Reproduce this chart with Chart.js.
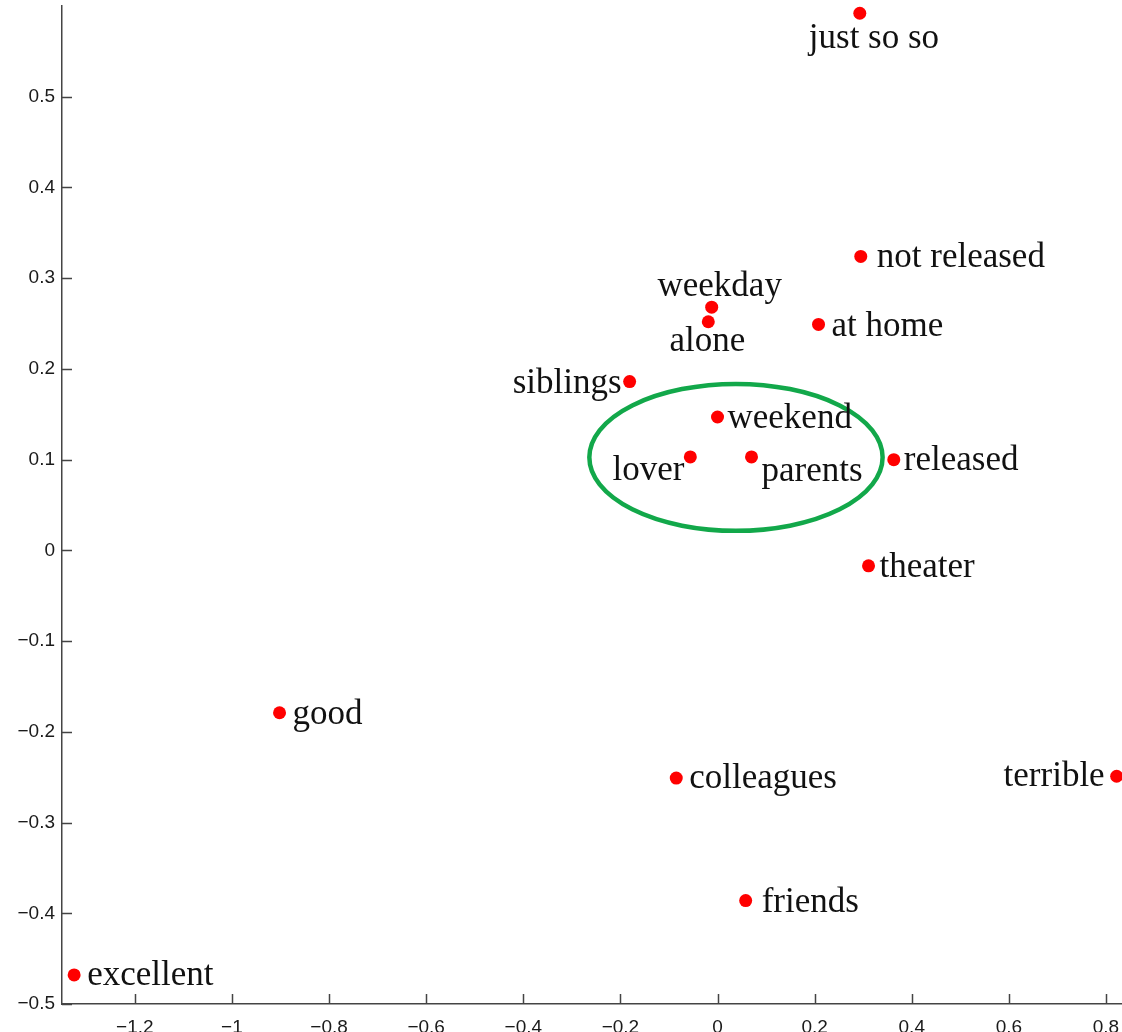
<!DOCTYPE html>
<html>
<head>
<meta charset="utf-8">
<title>Word embedding projection</title>
<script src="https://cdn.jsdelivr.net/npm/chart.js@4.4.1/dist/chart.umd.min.js"></script>
<style>
  html, body { margin: 0; padding: 0; background: #ffffff; }
  #wrap { width: 1122px; height: 1032px; position: relative; }
</style>
</head>
<body>
<div id="wrap"><canvas id="c" width="1122" height="1032"></canvas></div>
<script>
// Words and their 2-D coordinates
const words = ['just so so', 'not released', 'weekday', 'alone', 'at home', 'siblings',
  'weekend', 'lover', 'parents', 'released', 'theater', 'good', 'colleagues',
  'terrible', 'friends', 'excellent'];
const xValues = [0.293, 0.295, -0.012, -0.019, 0.208, -0.181,
  0.000, -0.056, 0.070, 0.363, 0.311, -0.902, -0.085,
  0.822, 0.058, -1.325];
const yValues = [0.592, 0.324, 0.268, 0.252, 0.249, 0.186,
  0.147, 0.103, 0.103, 0.100, -0.017, -0.179, -0.251,
  -0.249, -0.386, -0.468];

// Tick labels on each axis
const xTicks = [-1.2, -1, -0.8, -0.6, -0.4, -0.2, 0, 0.2, 0.4, 0.6, 0.8];
const yTicks = [-0.5, -0.4, -0.3, -0.2, -0.1, 0, 0.1, 0.2, 0.3, 0.4, 0.5];

// Cluster outline (centre and half-axes in data units)
const clusterCenter = [0.038, 0.1025];
const clusterRadii = [0.302, 0.081];

// Where each word's label sits relative to its dot: [dx, dy, align]
const labelPlacement = {
  'just so so':   [-51, 26, 'left'],
  'not released': [16, 1, 'left'],
  'weekday':      [8, -20, 'center'],
  'alone':        [-1, 20, 'center'],
  'at home':      [13, 2, 'left'],
  'siblings':     [-8, 2, 'right'],
  'weekend':      [10, 2, 'left'],
  'lover':        [-6, 14, 'right'],
  'parents':      [10, 15, 'left'],
  'released':     [10, 1, 'left'],
  'theater':      [11, 2, 'left'],
  'good':         [13, 2, 'left'],
  'colleagues':   [13, 1, 'left'],
  'terrible':     [-12, 1, 'right'],
  'friends':      [16, 2, 'left'],
  'excellent':    [13, 1, 'left']
};

const points = words.map((w, i) => ({ x: xValues[i], y: yValues[i], label: w }));

const minus = v => String(v).replace('-', '\u2212');

// Keep the plot area flush with the canvas edges
const noEdgePadding = s => {
  s.paddingTop = 0; s.paddingBottom = 0; s.paddingLeft = 0; s.paddingRight = 0;
};

// Inward tick marks on the left and bottom axes
const inwardTicks = {
  id: 'inwardTicks',
  afterDraw(chart) {
    const { ctx, scales: { x, y }, chartArea } = chart;
    ctx.save();
    ctx.strokeStyle = '#444444';
    ctx.lineWidth = 1.5;
    ctx.beginPath();
    xTicks.forEach(v => {
      const px = Math.round(x.getPixelForValue(v)) + 0.5;
      ctx.moveTo(px, chartArea.bottom);
      ctx.lineTo(px, chartArea.bottom - 10);
    });
    yTicks.forEach(v => {
      const py = Math.round(y.getPixelForValue(v)) + 0.5;
      ctx.moveTo(chartArea.left, py);
      ctx.lineTo(chartArea.left + 10, py);
    });
    ctx.stroke();
    ctx.restore();
  }
};

// Green ellipse around the cluster
const clusterOutline = {
  id: 'clusterOutline',
  afterDatasetsDraw(chart) {
    const { ctx, scales: { x, y } } = chart;
    const cx = x.getPixelForValue(clusterCenter[0]);
    const cy = y.getPixelForValue(clusterCenter[1]);
    const rx = Math.abs(x.getPixelForValue(clusterCenter[0] + clusterRadii[0]) - cx);
    const ry = Math.abs(y.getPixelForValue(clusterCenter[1] + clusterRadii[1]) - cy);
    ctx.save();
    ctx.strokeStyle = '#12a84a';
    ctx.lineWidth = 4.5;
    ctx.beginPath();
    ctx.ellipse(cx, cy, rx, ry, 0, 0, Math.PI * 2);
    ctx.stroke();
    ctx.restore();
  }
};

// Word labels next to each dot
const wordLabels = {
  id: 'wordLabels',
  afterDatasetsDraw(chart) {
    const { ctx } = chart;
    const meta = chart.getDatasetMeta(0);
    ctx.save();
    ctx.font = '35px "Liberation Serif", "Times New Roman", serif';
    ctx.fillStyle = '#111111';
    ctx.textBaseline = 'middle';
    meta.data.forEach((el, i) => {
      const p = labelPlacement[words[i]] || [12, 0, 'left'];
      ctx.textAlign = p[2];
      ctx.fillText(words[i], el.x + p[0], el.y + p[1]);
    });
    ctx.restore();
  }
};

new Chart(document.getElementById('c'), {
  type: 'scatter',
  data: {
    datasets: [{
      data: points,
      backgroundColor: '#ff0000',
      borderWidth: 0,
      pointRadius: 6.5,
      pointHoverRadius: 6.5,
      clip: false
    }]
  },
  options: {
    responsive: false,
    animation: false,
    events: [],
    layout: { autoPadding: false, padding: { top: 6, right: 0, left: 0, bottom: 0 } },
    plugins: {
      legend: { display: false },
      tooltip: { enabled: false }
    },
    scales: {
      x: {
        type: 'linear',
        min: -1.35,
        max: 0.833,
        afterBuildTicks: s => { s.ticks = xTicks.map(v => ({ value: v })); },
        afterFit: s => { s.height = 28; noEdgePadding(s); },
        grid: { display: false, drawTicks: false },
        border: { display: true, color: '#444444', width: 1.5 },
        ticks: {
          autoSkip: false,
          maxRotation: 0,
          padding: 12,
          color: '#1a1a1a',
          font: { family: '"Liberation Sans", Arial, sans-serif', size: 19 },
          callback: v => minus(v)
        }
      },
      y: {
        type: 'linear',
        min: -0.5,
        max: 0.6,
        afterBuildTicks: s => { s.ticks = yTicks.map(v => ({ value: v })); },
        afterFit: s => { s.width = 62; noEdgePadding(s); },
        grid: { display: false, drawTicks: false },
        border: { display: true, color: '#444444', width: 1.5 },
        ticks: {
          autoSkip: false,
          padding: 7,
          color: '#1a1a1a',
          font: { family: '"Liberation Sans", Arial, sans-serif', size: 19 },
          callback: v => minus(v)
        }
      }
    }
  },
  plugins: [inwardTicks, clusterOutline, wordLabels]
});
</script>
</body>
</html>
